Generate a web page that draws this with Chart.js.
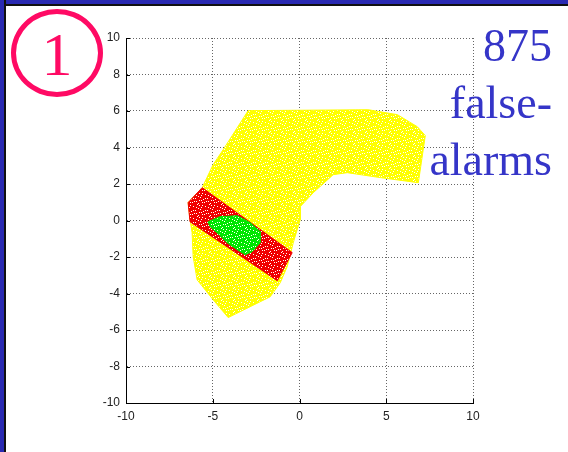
<!DOCTYPE html>
<html>
<head>
<meta charset="utf-8">
<script src="https://cdn.jsdelivr.net/npm/chart.js@4.4.1/dist/chart.umd.min.js"></script>
<style>
  html, body { margin: 0; padding: 0; background: #fff; }
  #page { position: relative; width: 568px; height: 452px; overflow: hidden; background: #fff; }
  #frameTop { position: absolute; left: 0; top: 0; width: 568px; height: 4px; background: #2a2ab2; border-bottom: 2px solid #111; }
  #frameLeft { position: absolute; left: 0; top: 0; width: 4px; height: 452px; background: #2a2ab2; border-right: 2px solid #111; }
  #wrap { position: absolute; left: 0; top: 0; width: 568px; height: 452px; }
  #badge { position: absolute; left: 11px; top: 9px; width: 82px; height: 78px; border: 5px solid #ff0a64; border-radius: 50%;
           font-family: "Liberation Serif", "DejaVu Serif", serif; font-size: 62px; line-height: 80px; text-align: center; color: #ff0a64; }
  #note { position: absolute; right: 16px; top: 17px; text-align: right; color: #3535c8;
          font-family: "Liberation Serif", "DejaVu Serif", serif; font-size: 46px; line-height: 57px; }
</style>
</head>
<body>
<div id="page">
  <div id="wrap"><canvas id="scatterChart"></canvas></div>
  <div id="frameTop"></div>
  <div id="frameLeft"></div>
  <div id="badge">1</div>
  <div id="note">875<br>false-<br>alarms</div>
</div>
<script>
// Contornos das regiões
const yellowX = [-2.96, 3.96, 5.64, 6.79, 7.25, 6.85, 4.66, 2.75, 1.94, 0.79, 0.04, 0.04, -0.36, -0.71, -1.11, -1.69, -4.11, -4.98, -5.90, -6.13, -6.19, -6.31, -6.42, -5.61, -4.98, -4.40, -2.96];
const yellowY = [6.02, 6.07, 5.80, 5.14, 4.65, 2.07, 2.35, 2.62, 2.51, 1.52, 0.76, 0.04, -1.22, -2.53, -3.41, -4.18, -5.32, -4.34, -3.25, -1.98, -0.67, 0.04, 0.98, 1.80, 3.06, 3.88, 6.02];

const redX = [-5.61, -0.42, -1.28, -6.31, -6.42, -5.61];
const redY = [1.80, -1.76, -3.30, -0.07, 0.98, 1.80];

const greenX = [-5.27, -4.58, -3.59, -2.84, -2.27, -2.27, -2.73, -3.13, -3.59, -4.17, -4.75, -5.15, -5.27];
const greenY = [-0.07, 0.21, 0.26, -0.12, -0.61, -1.22, -1.71, -1.88, -1.60, -1.22, -0.67, -0.34, -0.07];

const xTicks = [-10, -5, 0, 5, 10];
const yTicks = [-10, -8, -6, -4, -2, 0, 2, 4, 6, 8, 10];

function toPoints(xs, ys) {
  return xs.map((x, i) => ({ x: x, y: ys[i] }));
}

// textura pontilhada (pontos brancos sobre a cor)
const speckDots = [[1,2],[5,0],[9,3],[3,6],[7,8],[11,7],[0,10],[6,11],[10,10],[4,3],[8,5],[2,9],[6,4],[10,1],[1,6],[9,8],[4,9],[7,1]];
function speckle(color) {
  const c = document.createElement('canvas');
  c.width = 12; c.height = 12;
  const g = c.getContext('2d');
  g.fillStyle = color;
  g.fillRect(0, 0, 12, 12);
  g.fillStyle = '#ffffff';
  speckDots.forEach(d => g.fillRect(d[0], d[1], 1, 1));
  return g.createPattern(c, 'repeat');
}

// order maior = desenhado por baixo
function region(points, color, order) {
  return {
    data: points,
    order: order,
    showLine: true,
    fill: 'shape',
    backgroundColor: speckle(color),
    borderColor: color,
    borderWidth: 1,
    pointRadius: 0,
    tension: 0
  };
}

// marcas de escala para dentro, como no MATLAB
const innerTicks = {
  id: 'innerTicks',
  afterDraw(chart) {
    const { ctx, scales: { x, y }, chartArea: a } = chart;
    ctx.save();
    ctx.strokeStyle = '#000';
    ctx.lineWidth = 1;
    ctx.beginPath();
    xTicks.forEach(v => {
      const px = Math.round(x.getPixelForValue(v)) + 0.5;
      ctx.moveTo(px, a.bottom); ctx.lineTo(px, a.bottom - 4);
    });
    yTicks.forEach(v => {
      const py = Math.round(y.getPixelForValue(v)) + 0.5;
      ctx.moveTo(a.left, py); ctx.lineTo(a.left + 4, py);
    });
    ctx.stroke();
    ctx.restore();
  }
};

function initScatterChart() {
  const ctx = document.getElementById('scatterChart');
  if (!ctx) return;

  new Chart(ctx, {
    type: 'scatter',
    data: {
      datasets: [
        region(toPoints(yellowX, yellowY), '#ffff00', 3),
        region(toPoints(redX, redY), '#f00000', 2),
        region(toPoints(greenX, greenY), '#00e600', 1)
      ]
    },
    options: {
      responsive: true,
      maintainAspectRatio: false,
      animation: false,
      layout: { padding: { left: 0, top: 38, right: 95, bottom: 19 } },
      plugins: {
        legend: { display: false },
        tooltip: { enabled: false }
      },
      scales: {
        x: {
          type: 'linear',
          min: -10, max: 10,
          afterFit: s => { s.height = 30; },
          afterBuildTicks: s => { s.ticks = xTicks.map(v => ({ value: v })); },
          ticks: { color: '#222', padding: 6, font: { family: 'Liberation Sans, Arial', size: 12 } },
          grid: { color: '#666', drawTicks: false },
          border: { display: true, color: '#000', width: 1, dash: [1, 2] }
        },
        y: {
          type: 'linear',
          min: -10, max: 10,
          afterFit: s => { s.width = 126; },
          afterBuildTicks: s => { s.ticks = yTicks.map(v => ({ value: v })); },
          ticks: { color: '#222', padding: 6, font: { family: 'Liberation Sans, Arial', size: 12 } },
          grid: { color: '#666', drawTicks: false },
          border: { display: true, color: '#000', width: 1, dash: [1, 2] }
        }
      }
    },
    plugins: [innerTicks]
  });
}

initScatterChart();
</script>
</body>
</html>
